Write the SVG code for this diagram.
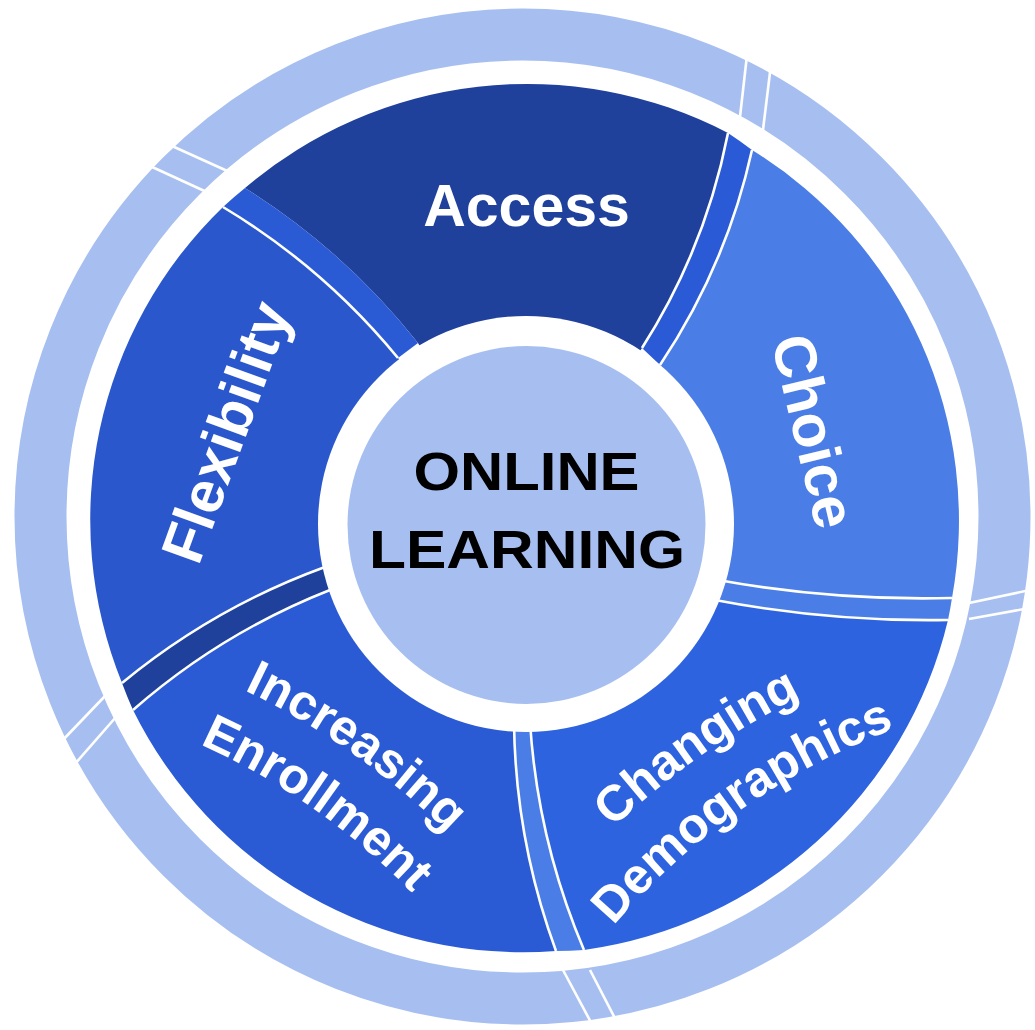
<svg xmlns="http://www.w3.org/2000/svg" width="1035" height="1030" viewBox="0 0 1035 1030">
<style>
.lbl{font-family:"Liberation Sans",Arial,sans-serif;font-weight:bold;fill:#ffffff;}
.big{font-size:59px;}
.mid{font-size:50px;}
.hubt{font-family:"Liberation Sans",Arial,sans-serif;font-weight:bold;font-size:53px;fill:#000000;}
.edge{fill:none;stroke:#ffffff;stroke-width:2.6;}
.rsep{stroke:#ffffff;stroke-width:2.6;}
</style>
<defs>
<path id="pInc" d="M 201.6 671.4 A 750 750 0 0 1 480 866.6"/>
<path id="pEnr" d="M 142 721.5 A 682 682 0 0 1 453.2 939.7"/>
<path id="pCha" d="M 574 868.6 A 750 750 0 0 1 852.4 673.4"/>
<path id="pDem" d="M 595 948.5 A 684 684 0 0 1 922.6 718.9"/>
</defs>
<rect width="1035" height="1030" fill="#ffffff"/>
<g id="outer-ring">
<circle cx="522.5" cy="516.5" r="482" fill="none" stroke="#a7bff0" stroke-width="52"/>
<line class="rsep" x1="747.6" y1="50" x2="739.4" y2="122"/>
<line class="rsep" x1="770.8" y1="66" x2="762.5" y2="134"/>
<line class="rsep" x1="172" y1="146" x2="234" y2="174"/>
<line class="rsep" x1="150" y1="166" x2="211" y2="194"/>
<line class="rsep" x1="60" y1="743" x2="106" y2="695"/>
<line class="rsep" x1="74" y1="765" x2="116" y2="717"/>
<line class="rsep" x1="563" y1="970" x2="594" y2="1028"/>
<line class="rsep" x1="590" y1="970" x2="620" y2="1028"/>
<line class="rsep" x1="969" y1="603" x2="1035" y2="589"/>
<line class="rsep" x1="969" y1="619" x2="1035" y2="607"/>
</g>
<g id="node-access">
<path d="M 526 520 L 418 343 Q 344.9 250.6 245 188 A 435 435 0 0 1 728 133 Q 705.4 248.7 642 348 Z" fill="#1f419c"/>
<text class="lbl big" x="526.5" y="226" text-anchor="middle">Access</text>
</g>
<g id="node-choice">
<path d="M 526 520 L 660 365 Q 726.4 265.7 752 150 A 435 435 0 0 1 952 598 Q 834 601 718 580 Z" fill="#4a7de6"/>
<text class="lbl big" transform="translate(794,436) rotate(76.5)" text-anchor="middle">Choice</text>
</g>
<g id="node-changing-demographics">
<path d="M 526 520 L 715 600 Q 830.6 622 948 620 A 435 435 0 0 1 584 950 Q 537.5 840.6 530 722 Z" fill="#2e63e0"/>
<text class="lbl mid"><textPath href="#pCha" startOffset="50%" text-anchor="middle">Changing</textPath></text>
<text class="lbl mid"><textPath href="#pDem" startOffset="50%" text-anchor="middle">Demographics</textPath></text>
</g>
<g id="node-increasing-enrollment">
<path d="M 526 520 L 514 722 Q 515.3 840 556 951 A 435 435 0 0 1 133 710 Q 221.1 632.9 330 590 Z" fill="#2b5bd4"/>
<text class="lbl mid"><textPath href="#pInc" startOffset="50%" text-anchor="middle">Increasing</textPath></text>
<text class="lbl mid"><textPath href="#pEnr" startOffset="50%" text-anchor="middle">Enrollment</textPath></text>
</g>
<g id="node-flexibility">
<path d="M 526 520 L 325 567 Q 213.6 607.6 122 683 A 435 435 0 0 1 223 207 Q 323.6 267.4 398 358 Z" fill="#2a58cc"/>
<text class="lbl big" transform="translate(245,439) rotate(-70)" text-anchor="middle">Flexibility</text>
</g>
<g id="separators">
<path d="M 642 348 Q 705.4 248.7 728 133 A 435 435 0 0 1 752 150 Q 726.4 265.7 660 365 Z" fill="#2a5ad6"/>
<path d="M 718 580 Q 834 601 952 598 A 435 435 0 0 1 948 620 Q 830.6 622 715 600 Z" fill="#4a7de6"/>
<path d="M 530 722 Q 537.5 840.6 584 950 A 435 435 0 0 1 556 951 Q 515.3 840 514 722 Z" fill="#4a7de6"/>
<path d="M 330 590 Q 221.1 632.9 133 710 A 435 435 0 0 1 122 683 Q 213.6 607.6 325 567 Z" fill="#1f419c"/>
<path d="M 398 358 Q 323.6 267.4 223 207 A 435 435 0 0 1 245 188 Q 344.9 250.6 418 343 Z" fill="#2b5bd4"/>
<path class="edge" d="M 642 348 Q 705.4 248.7 728 133"/>
<path class="edge" d="M 660 365 Q 726.4 265.7 752 150"/>
<path class="edge" d="M 718 580 Q 834 601 952 598"/>
<path class="edge" d="M 715 600 Q 830.6 622 948 620"/>
<path class="edge" d="M 514 722 Q 515.3 840 556 951"/>
<path class="edge" d="M 530 722 Q 537.5 840.6 584 950"/>
<path class="edge" d="M 325 567 Q 213.6 607.6 122 683"/>
<path class="edge" d="M 330 590 Q 221.1 632.9 133 710"/>
<path class="edge" d="M 398 358 Q 323.6 267.4 223 207"/>
</g>
<g id="node-online-learning">
<circle cx="526" cy="524" r="208" fill="#ffffff"/>
<circle cx="526.5" cy="525" r="179" fill="#a7bff0"/>
<text class="hubt" x="526.5" y="490" text-anchor="middle" textLength="226" lengthAdjust="spacingAndGlyphs">ONLINE</text>
<text class="hubt" x="527" y="568" text-anchor="middle" textLength="316" lengthAdjust="spacingAndGlyphs">LEARNING</text>
</g>
</svg>
